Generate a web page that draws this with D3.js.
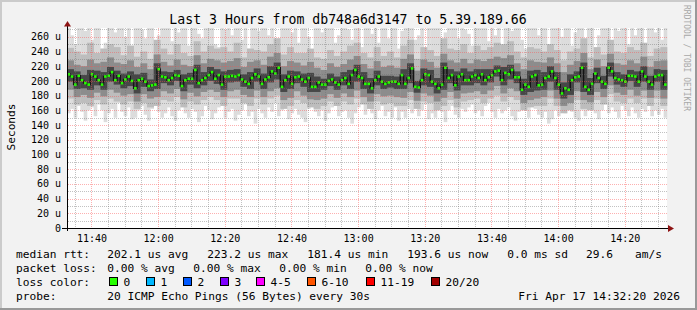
<!DOCTYPE html>
<html>
<head>
<meta charset="utf-8">
<script src="https://cdn.jsdelivr.net/npm/d3@7"></script>
<style>
  html, body { margin: 0; padding: 0; background: #f2f2f2; }
  svg { display: block; }
  text { font-family: "DejaVu Sans Mono", monospace; }
</style>
</head>
<body>
<div id="chart"></div>
<script>
// ---- chart data (rtt values in microseconds) ----
var titleText = "Last 3 Hours from db748a6d3147 to 5.39.189.66";
var startTime = new Date(2026, 3, 17, 11, 32, 40);
var endTime = new Date(2026, 3, 17, 14, 32, 40);
var yMaxUs = 272;

// median rtt, one value per minute
var medianUs = [
  209,206,195,207,201,197,195,209,206,201,195,206,207,212,201,207,197,202,206,200,
  190,201,203,199,193,194,195,216,206,205,201,204,208,207,193,201,203,203,215,197,
  201,204,208,212,203,208,195,206,206,207,206,208,202,199,196,204,209,206,196,202,
  205,213,210,218,192,201,206,196,205,206,202,199,204,192,192,198,195,195,200,202,
  198,195,201,204,196,208,215,206,204,196,196,190,201,206,199,196,198,199,199,196,
  208,196,204,217,192,191,201,209,208,199,196,190,195,218,204,208,194,206,209,201,
  201,206,208,204,209,201,205,208,213,214,201,211,209,215,205,205,188,195,192,206,
  208,194,195,204,206,213,204,195,183,190,188,201,205,206,218,192,188,196,210,204,
  199,196,218,213,204,202,201,199,207,207,206,199,213,206,199,195,206,208,208,195
];

// outermost smoke (max / min ping), one column per minute
var band1Hi = [
  272,262,250,272,272,268,272,256,272,272, 244,252,272,272,266,272,272,260,272,248,
  272,272,270,258,272,272,242,262,272,272, 272,254,272,266,272,272,248,272,272,264,
  258,272,272,272,250,246,272,270,272,262, 272,272,256,272,244,272,272,268,272,272,
  262,272,248,258,272,272,272,266,272,252, 272,272,260,240,272,272,266,272,272,272,
  252,262,272,272,270,256,272,272,246,272, 272,264,272,252,272,272,258,272,272,244,
  268,272,272,272,256,262,272,240,272,272, 272,272,250,266,272,272,272,258,272,270,
  264,248,272,272,272,272,254,272,262,272, 246,272,272,268,272,272,256,244,272,272,
  272,262,272,272,250,272,272,272,260,272, 272,248,266,272,272,258,272,272,242,262,
  272,272,272,254,272,268,272,272,250,272, 262,272,272,246,272,272,266,272,256,272];
var band1Lo = [
  156,162,150,166,158,146,160,164,152,168, 160,144,156,162,150,170,158,152,164,148,
  150,160,166,154,146,162,170,158,150,156, 164,152,146,160,168,156,150,162,158,144,
  152,166,160,148,156,164,170,150,158,162, 146,154,160,168,152,158,142,162,156,150,
  164,158,170,152,160,166,148,156,162,154, 150,144,162,168,158,152,160,146,156,164,
  166,152,158,160,150,142,156,164,170,154, 162,156,148,160,166,152,158,150,164,146,
  158,150,162,156,166,152,160,168,148,156, 150,162,158,144,160,166,154,150,162,158,
  164,168,156,160,152,166,170,158,150,162, 156,160,164,152,146,158,166,160,150,168,
  162,154,150,158,142,148,160,152,164,156, 166,158,150,146,160,152,162,170,156,148,
  160,168,156,164,158,150,166,160,152,164, 156,150,162,158,166,152,160,154,162,150];

// inner smoke bands, one column per 2 minutes
var band2Hi = [245,240,236,252,238,244,250,246,235,248, 233,240,230,256,244,236,250,238,234,254,
  240,248,244,246,240,252,232,244,242,240, 250,258,236,246,238,238,244,232,230,242,
  234,240,248,252,238,232,246,234,240,232, 248,256,230,246,242,234,258,244,242,250,
  238,248,242,246,252,250,254,240,232,246, 244,240,250,242,228,240,244,258,232,246,
  236,256,240,238,246,242,252,234,244,246];
var band2Lo = [176,168,170,166,174,168,176,172,168,172, 162,170,164,166,174,172,178,164,172,168,
  174,178,174,166,176,176,170,166,176,168, 176,180,162,166,174,170,164,162,166,172,
  166,172,168,176,168,162,172,168,170,166, 166,174,162,172,170,160,166,174,164,172,
  174,176,170,176,180,172,178,174,160,164, 166,166,176,166,156,160,174,162,160,174,
  168,182,172,170,176,170,176,166,176,166];
var band3Hi = [228,222,220,229,224,226,232,225,223,228, 219,224,216,236,226,221,229,222,220,235,
  224,230,228,225,227,231,219,226,228,222, 233,238,220,227,225,221,226,218,215,224,
  219,223,229,234,223,217,227,219,221,218, 230,236,214,229,226,218,237,228,225,230,
  224,229,227,230,233,231,235,224,216,228, 226,225,232,224,212,222,227,238,216,229,
  220,237,224,222,228,224,233,219,227,228];
var band3Lo = [188,178,181,177,184,179,188,184,180,182, 172,182,176,178,186,183,189,175,184,179,
  185,188,185,178,186,188,181,178,187,178, 186,190,174,177,186,180,175,174,176,182,
  177,183,178,187,178,172,182,179,180,178, 177,185,173,183,180,172,177,185,176,183,
  184,186,182,187,193,183,190,186,170,174, 176,178,187,176,166,170,186,174,171,185,
  178,194,184,181,188,180,187,177,187,176];
var band4Hi = [216,213,208,215,214,212,219,214,210,213, 209,211,202,224,213,212,215,209,211,222,
  212,219,216,213,215,216,209,212,217,210, 220,225,209,214,213,210,211,206,203,210,
  206,212,215,222,212,204,214,207,207,206, 216,224,200,217,215,204,225,216,213,217,
  213,216,216,216,221,219,222,213,203,214, 215,212,220,212,198,209,213,225,204,218,
  207,225,212,209,215,213,220,207,216,215];
var band4Lo = [199,189,190,188,194,188,199,195,190,193, 183,192,186,189,197,194,200,186,195,190,
  194,200,196,188,198,199,192,189,199,189, 198,202,185,189,197,192,185,185,188,193,
  188,194,189,199,189,183,194,189,191,189, 189,197,184,194,192,183,188,197,187,194,
  194,197,194,198,206,194,202,197,181,185, 187,188,199,188,176,181,198,185,181,197,
  189,206,195,192,200,192,199,188,199,188];
var bandColors = ["#dcdcdc", "#bdbdbd", "#8c8c8c", "#474747"];

// legend
var lossLabels = ["0", "1", "2", "3", "4-5", "6-10", "11-19", "20/20"];
var lossColors = ["#26ff00", "#00b8ff", "#0059ff", "#7e00ff", "#ff00ff", "#ff5500", "#ff0000", "#a10000"];
var rttItems = ["202.1 us avg", "223.2 us max", "181.4 us min", "193.6 us now", "0.0 ms sd"];
var lossItems = ["0.00 % avg", "0.00 % max", "0.00 % min", "0.00 % now"];
var amsValue = "29.6";
var probeText = "20 ICMP Echo Pings (56 Bytes) every 30s";
var dateText = "Fri Apr 17 14:32:20 2026";

// ---- layout ----
var W = 697, H = 310;
var pLeft = 67, pRight = 667, pTop = 28, pBottom = 228;

var svg = d3.select("#chart").append("svg")
    .attr("width", W)
    .attr("height", H);

// dotted grid patterns (one pixel on, one off)
var defs = svg.append("defs");
function dotPattern(id, w, h, color) {
  defs.append("pattern")
      .attr("id", id)
      .attr("patternUnits", "userSpaceOnUse")
      .attr("width", w).attr("height", h)
    .append("rect")
      .attr("width", 1).attr("height", 1)
      .attr("fill", color);
}
var minorCol = "rgba(110,110,110,0.42)", majorCol = "rgba(250,80,80,0.45)";
dotPattern("hMinor", 2, 1, minorCol);
dotPattern("hMajor", 2, 1, majorCol);
dotPattern("vMinor", 1, 2, minorCol);
dotPattern("vMajor", 1, 2, majorCol);

// background + 3d frame
svg.append("rect").attr("width", W).attr("height", H).attr("fill", "#f2f2f2");
svg.append("rect").attr("x", 0).attr("y", 0).attr("width", W).attr("height", 2).attr("fill", "#cbcbcb");
svg.append("rect").attr("x", 0).attr("y", 0).attr("width", 2).attr("height", H).attr("fill", "#cbcbcb");
svg.append("rect").attr("x", 0).attr("y", H - 2).attr("width", W).attr("height", 2).attr("fill", "#999999");
svg.append("rect").attr("x", W - 2).attr("y", 0).attr("width", 2).attr("height", H).attr("fill", "#999999");

var x = d3.scaleTime().domain([startTime, endTime]).range([pLeft, pRight]);
var y = d3.scaleLinear().domain([0, yMaxUs]).range([pBottom, pTop]);

// plot canvas
svg.append("rect")
    .attr("x", pLeft).attr("y", pTop)
    .attr("width", pRight - pLeft).attr("height", pBottom - pTop)
    .attr("fill", "#ffffff");

var plot = svg.append("g");

// smoke
function drawBand(hi, lo, stepMin, color) {
  var ms = stepMin * 60 * 1000;
  plot.append("g").selectAll("rect")
    .data(hi)
    .enter().append("rect")
      .attr("x", function(d, i) { return x(new Date(+startTime + i * ms)); })
      .attr("width", function(d, i) {
        return x(new Date(+startTime + (i + 1) * ms)) - x(new Date(+startTime + i * ms)) + 0.3;
      })
      .attr("y", function(d) { return y(Math.min(d, yMaxUs)); })
      .attr("height", function(d, i) { return Math.max(0, y(lo[i]) - y(Math.min(d, yMaxUs))); })
      .attr("fill", color);
}
drawBand(band1Hi, band1Lo, 1, bandColors[0]);
drawBand(band2Hi, band2Lo, 2, bandColors[1]);
drawBand(band3Hi, band3Lo, 2, bandColors[2]);
drawBand(band4Hi, band4Lo, 2, bandColors[3]);

// median: dark connector + green loss colour marks
var minMs = 60 * 1000;
var medianLine = d3.line()
    .x(function(d, i) { return x(new Date(+startTime + i * minMs)) + 1.6; })
    .y(function(d) { return y(d); })
    .curve(d3.curveStep);
plot.append("path")
    .datum(medianUs)
    .attr("d", medianLine)
    .attr("fill", "none")
    .attr("stroke", "#141414")
    .attr("stroke-width", 1.4);

plot.append("g").selectAll("rect")
    .data(medianUs)
    .enter().append("rect")
      .attr("x", function(d, i) { return x(new Date(+startTime + i * minMs)) + 0.4; })
      .attr("width", 2.6)
      .attr("y", function(d) { return y(d) - 1.3; })
      .attr("height", 2.6)
      .attr("fill", lossColors[0]);

// grid (on top of the smoke, like rrdtool)
var grid = svg.append("g").attr("shape-rendering", "crispEdges");
var yTicks = y.ticks(28).filter(function(v) { return v > 0; });
grid.selectAll("rect.h")
    .data(yTicks)
    .enter().append("rect")
      .attr("x", pLeft + 1).attr("width", pRight - pLeft - 1)
      .attr("y", function(d) { return Math.round(y(d)); })
      .attr("height", 1)
      .attr("fill", function(d) { return d % 20 === 0 ? "url(#hMajor)" : "url(#hMinor)"; });
var xTicks = d3.timeMinute.every(5).range(startTime, endTime);
grid.selectAll("rect.v")
    .data(xTicks)
    .enter().append("rect")
      .attr("x", function(d) { return Math.round(x(d)); })
      .attr("width", 1)
      .attr("y", pTop).attr("height", pBottom - pTop)
      .attr("fill", function(d) { return d.getMinutes() % 20 === 0 ? "url(#vMajor)" : "url(#vMinor)"; });
var majorX = xTicks.filter(function(d) { return d.getMinutes() % 20 === 0; });

// axes
svg.append("line").attr("x1", 62).attr("x2", 670).attr("y1", pBottom + 0.5).attr("y2", pBottom + 0.5)
    .attr("stroke", "#000");
svg.append("line").attr("x1", pLeft + 0.5).attr("x2", pLeft + 0.5).attr("y1", 231).attr("y2", 25)
    .attr("stroke", "#000");
svg.append("path").attr("d", "M64,26.5L71,26.5L67.5,21Z").attr("fill", "#8e1414");
svg.append("path").attr("d", "M668,225L668,232L674,228.5Z").attr("fill", "#8e1414");

// tick labels
svg.append("g").selectAll("text")
    .data(y.ticks(14))
    .enter().append("text")
      .attr("x", 61)
      .attr("y", function(d) { return y(d) + 3.6; })
      .attr("text-anchor", "end")
      .attr("font-size", "10px")
      .attr("fill", "#000")
      .text(function(d) { return d === 0 ? "0" : d + " u"; });

var fmt = d3.timeFormat("%H:%M");
svg.append("g").selectAll("text")
    .data(majorX)
    .enter().append("text")
      .attr("x", function(d) { return x(d) + 0.5; })
      .attr("y", 242)
      .attr("text-anchor", "middle")
      .attr("font-size", "10px")
      .attr("fill", "#000")
      .text(function(d) { return fmt(d); });

// title, y label, watermark
svg.append("text")
    .attr("x", 348).attr("y", 24)
    .attr("text-anchor", "middle")
    .attr("font-size", "13.2px")
    .text(titleText);
svg.append("text")
    .attr("transform", "translate(14.5,127) rotate(-90)")
    .attr("text-anchor", "middle")
    .attr("font-size", "11.2px")
    .text("Seconds");
svg.append("text")
    .attr("transform", "translate(684,5) rotate(90)")
    .attr("font-size", "8px")
    .attr("fill", "#a8a8a8")
    .text("RRDTOOL / TOBI OETIKER");

// legend
var lg = svg.append("g").attr("font-size", "11.2px").attr("fill", "#000");
function put(tx, ty, s) {
  lg.append("text").attr("x", tx).attr("y", ty).attr("xml:space", "preserve").text(s);
}
put(16, 258, "median rtt:");
rttItems.forEach(function(s, i) { put(107.3 + i * 100, 258, s); });
put(586, 258, amsValue);
put(635, 258, "am/s");

put(16, 272, "packet loss:");
lossItems.forEach(function(s, i) { put(107.3 + i * 86, 272, s); });

put(16, 286, "loss color:");
var boxX = [108.7, 145.7, 182.7, 219.7, 256.3, 307.3, 365.7, 431];
lossLabels.forEach(function(s, i) {
  lg.append("rect")
    .attr("x", Math.round(boxX[i]) + 0.5).attr("y", 277.5)
    .attr("width", 8).attr("height", 8)
    .attr("fill", lossColors[i])
    .attr("stroke", "#000").attr("stroke-width", 1);
  put(Math.round(boxX[i]) + 14.5, 286, s);
});

put(16, 300, "probe:");
put(107.3, 300, probeText);
lg.append("text").attr("x", 680).attr("y", 300).attr("text-anchor", "end").text(dateText);
</script>
</body>
</html>
